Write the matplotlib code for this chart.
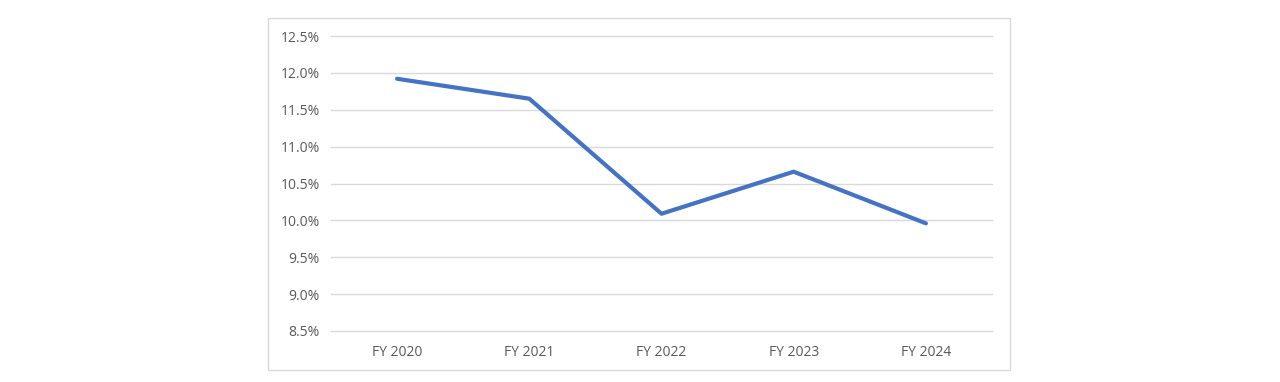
import matplotlib.pyplot as plt
from matplotlib.patches import Rectangle
from matplotlib.ticker import FuncFormatter

years = ["FY 2020", "FY 2021", "FY 2022", "FY 2023", "FY 2024"]
margin = [11.92, 11.65, 10.09, 10.66, 9.96]
y_ticks = [8.5, 9.0, 9.5, 10.0, 10.5, 11.0, 11.5, 12.0, 12.5]

W, H = 1280, 382
fig = plt.figure(figsize=(W / 100, H / 100), dpi=100)
plt.rcParams["font.family"] = ["Open Sans", "DejaVu Sans"]

# outer chart border
fig.patches.append(
    Rectangle((268 / W, 1 - 370 / H), (1010 - 268) / W, (370 - 18) / H,
              transform=fig.transFigure, fill=False, edgecolor="#d9d9d9", linewidth=1)
)

ax = fig.add_axes([331 / W, 1 - 331 / H, (992 - 331) / W, (331 - 36) / H])
x = range(len(years))
ax.plot(x, margin, color="#4472c4", linewidth=3, solid_capstyle="round", zorder=3)

ax.set_xlim(-0.5, len(years) - 0.5)
ax.set_ylim(8.5, 12.5)
ax.set_yticks(y_ticks)
ax.yaxis.set_major_formatter(FuncFormatter(lambda v, _: f"{v:.1f}%"))
ax.set_xticks(list(x))
ax.set_xticklabels(years)
ax.grid(axis="y", color="#d9d9d9", linewidth=1)
for gl in ax.get_ygridlines():
    gl.set_clip_on(False)
ax.set_axisbelow(True)
for s in ax.spines.values():
    s.set_visible(False)
ax.tick_params(length=0, labelsize=10, colors="#595959", pad=8)
ax.tick_params(axis="x", pad=10)

fig.savefig("out.png", dpi=100)
